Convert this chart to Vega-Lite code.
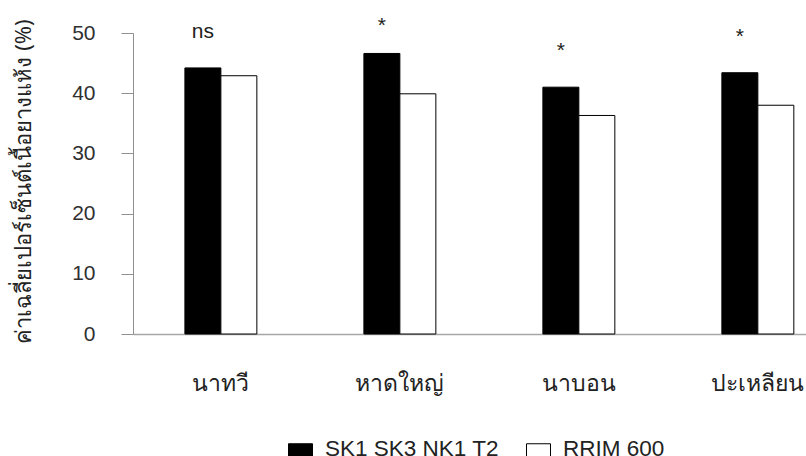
{
  "$schema": "https://vega.github.io/schema/vega-lite/v6.json",
  "width": 673,
  "height": 301,
  "autosize": {"type": "none"},
  "padding": {"left": 133, "top": 33, "right": 0, "bottom": 122},
  "background": "white",
  "config": {"view": {"stroke": null}, "font": "Liberation Sans"},
  "datasets": {
    "bars": [
      {"site": "นาทวี", "variety": "SK1 SK3 NK1 T2", "value": 44.2},
      {"site": "นาทวี", "variety": "RRIM 600", "value": 42.9},
      {"site": "หาดใหญ่", "variety": "SK1 SK3 NK1 T2", "value": 46.6},
      {"site": "หาดใหญ่", "variety": "RRIM 600", "value": 39.9},
      {"site": "นาบอน", "variety": "SK1 SK3 NK1 T2", "value": 41.0},
      {"site": "นาบอน", "variety": "RRIM 600", "value": 36.3},
      {"site": "ปะเหลียน", "variety": "SK1 SK3 NK1 T2", "value": 43.4},
      {"site": "ปะเหลียน", "variety": "RRIM 600", "value": 38.0}
    ],
    "sig": [
      {"site": "นาทวี", "variety": "SK1 SK3 NK1 T2", "label": "ns", "label_y": 49.1},
      {"site": "หาดใหญ่", "variety": "SK1 SK3 NK1 T2", "label": "*", "label_y": 50.2},
      {"site": "นาบอน", "variety": "SK1 SK3 NK1 T2", "label": "*", "label_y": 46.0},
      {"site": "ปะเหลียน", "variety": "SK1 SK3 NK1 T2", "label": "*", "label_y": 48.3}
    ]
  },
  "encoding": {
    "x": {
      "field": "site",
      "type": "nominal",
      "sort": ["นาทวี", "หาดใหญ่", "นาบอน", "ปะเหลียน"],
      "scale": {"paddingInner": 0.598, "paddingOuter": 0.179, "align": 0.81},
      "axis": {
        "title": null,
        "ticks": false,
        "tickSize": 0,
        "labelAngle": 0,
        "labelBaseline": "middle",
        "labelPadding": 49,
        "labelFont": "Noto Sans",
        "labelFontSize": 23,
        "labelColor": "#222222",
        "domainColor": "#a6a6a6",
        "domainWidth": 1.5
      }
    },
    "xOffset": {
      "field": "variety",
      "type": "nominal",
      "sort": ["SK1 SK3 NK1 T2", "RRIM 600"],
      "scale": {"paddingInner": 0, "paddingOuter": 0}
    }
  },
  "layer": [
    {
      "data": {"name": "bars"},
      "mark": {"type": "bar", "stroke": "black", "strokeWidth": 1},
      "encoding": {
        "y": {
          "field": "value",
          "type": "quantitative",
          "scale": {"domain": [0, 50], "nice": false},
          "axis": {
            "title": "ค่าเฉลี่ยเปอร์เซ็นต์เนื้อยางแห้ง (%)",
            "values": [0, 10, 20, 30, 40, 50],
            "grid": false,
            "tickSize": 12,
            "tickColor": "#909090",
            "domainColor": "#909090",
            "labelPadding": 26,
            "labelFontSize": 21,
            "labelColor": "#303030",
            "titleFont": "Noto Sans",
            "titleFontSize": 22,
            "titleFontWeight": "normal",
            "titleColor": "#222222",
            "titleAngle": -90,
            "titleX": -110,
            "titleY": 148,
            "titleAlign": "center",
            "titleBaseline": "middle"
          }
        },
        "fill": {
          "field": "variety",
          "type": "nominal",
          "sort": ["SK1 SK3 NK1 T2", "RRIM 600"],
          "scale": {"domain": ["SK1 SK3 NK1 T2", "RRIM 600"], "range": ["#000000", "#ffffff"]},
          "legend": {
            "title": null,
            "orient": "none",
            "legendX": 155,
            "legendY": 410,
            "direction": "horizontal",
            "symbolType": "square",
            "symbolSize": 576,
            "symbolStrokeColor": "black",
            "symbolStrokeWidth": 1,
            "labelFontSize": 22.5,
            "labelBaseline": "alphabetic",
            "labelLimit": 400,
            "labelColor": "#222222",
            "labelOffset": 12,
            "columnPadding": 25
          }
        }
      }
    },
    {
      "data": {"name": "sig"},
      "mark": {"type": "text", "baseline": "alphabetic", "fontSize": 21, "color": "#222222", "clip": false},
      "encoding": {
        "y": {"field": "label_y", "type": "quantitative"},
        "text": {"field": "label", "type": "nominal"}
      }
    }
  ]
}
